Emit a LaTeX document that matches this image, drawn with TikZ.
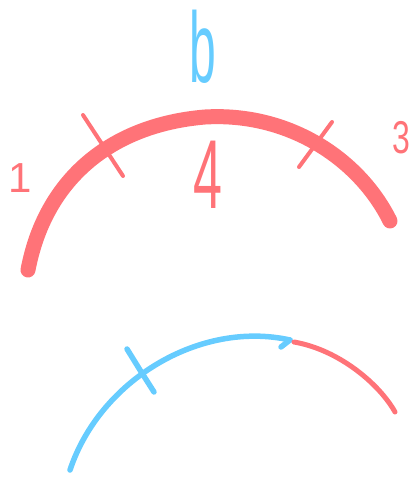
\documentclass[tikz,border=0pt]{standalone}
\usepackage{fontspec}
\setmainfont{Liberation Sans}
\usetikzlibrary{arrows.meta,positioning,calc}
\definecolor{sRed}{HTML}{FF7378}
\definecolor{sBlue}{HTML}{66CCFF}
\tikzset{
  thickarc/.style ={line width=15pt,line cap=round,sRed},
  penred/.style   ={line width=5pt,line cap=round,line join=round,sRed},
  penblue/.style  ={line width=5.5pt,line cap=round,line join=round,sBlue},
  glyph/.style    ={inner sep=0pt,font=\fontsize{40}{40}\selectfont},
}
\begin{document}
\begin{tikzpicture}[x=1pt,y=-1pt]
  \useasboundingbox (0,0) rectangle (411,480);
  % upper sketch
  \coordinate (rstart) at (28,270);
  \coordinate (rtop) at (205,117);
  \coordinate (rend) at (390,221);
  \draw[thickarc] (rstart) .. controls (45,180) and (110,125) .. (rtop)
                           .. controls (290,112) and (360,160) .. (rend);
  \coordinate (t1a) at (83,115);  \coordinate (t1b) at (123,176);
  \coordinate (t3a) at (332,122); \coordinate (t3b) at (299,167);
  \draw[penred,line width=4pt] (t1a) -- (t1b);
  \draw[penred,line width=4pt] (t3a) -- (t3b);
  \node[glyph,sRed,font=\fontsize{42}{42}\selectfont] (one) at (20,178) {1};
  \node[glyph,sRed,xscale=0.8,yscale=1.15] (three) at (401,138) {3};
  \node[glyph,sBlue,xscale=1.2,yscale=2.5] (bee) at (203,47) {b};
  \node[glyph,sRed,xscale=1.3,yscale=2.45] (four) at (208,175) {4};
  % lower sketch
  \coordinate (bstart) at (70,470);
  \coordinate (bend) at (290,340);
  \draw[penblue] (bstart) .. controls (100,380) and (200,320) .. (bend);
  \draw[penblue] (bend) -- (281,347);
  \draw[penblue] (127,349) -- (140,370) -- (154,392);
  \draw[penred] (294,342) .. controls (340,350) and (380,385) .. (395,412);
\end{tikzpicture}
\end{document}
